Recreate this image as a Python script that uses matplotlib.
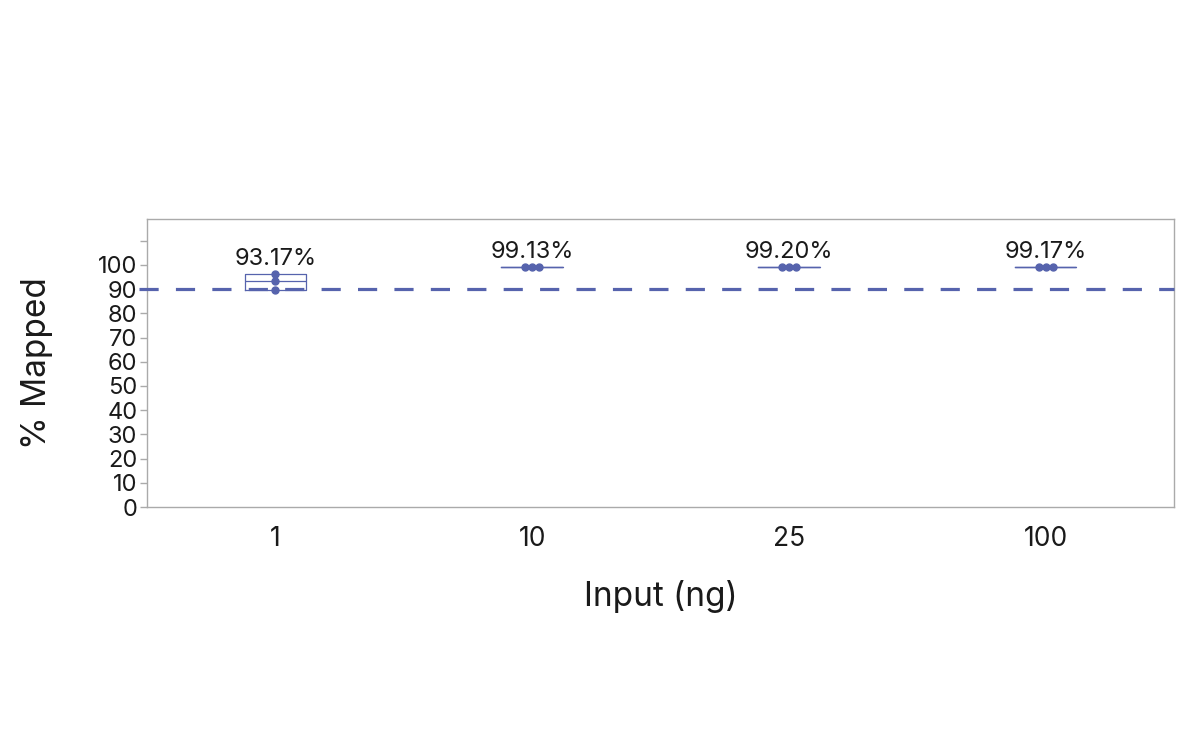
import matplotlib.pyplot as plt
import numpy as np

plt.rcParams['font.family'] = ['Inter', 'DejaVu Sans']

# data
categories = ['1', '10', '25', '100']
mapped = [
    [89.7, 93.4, 96.4],
    [99.1, 99.1, 99.2],
    [99.2, 99.2, 99.2],
    [99.2, 99.1, 99.2],
]
means = ['93.17%', '99.13%', '99.20%', '99.17%']
threshold = 90

blue = '#5663ad'
grey = '#aaaaaa'

fig = plt.figure(figsize=(12, 7.42), dpi=100)
ax = fig.add_axes([0.1225, 0.3167, 0.8558, 0.3882])

# box stats (min/max quartiles like JMP for n=3)
stats = []
for i, v in enumerate(mapped):
    v = np.array(v)
    q1, med, q3 = np.percentile(v, [25, 50, 75], method='weibull')
    stats.append(dict(med=med, q1=q1, q3=q3, whislo=v.min(), whishi=v.max(), fliers=[]))
ax.bxp(stats, positions=range(len(categories)), widths=0.24, showcaps=False,
       boxprops=dict(color=blue, linewidth=0.9),
       medianprops=dict(color=blue, linewidth=0.9),
       whiskerprops=dict(color=blue, linewidth=0.9), manage_ticks=False)

# points, spread sideways where they overlap
step = 0.027
for i, v in enumerate(mapped):
    v = np.array(v)
    order = np.argsort(v)
    groups = []
    for j in order:
        if groups and abs(v[j] - v[groups[-1][-1]]) < 1.5:
            groups[-1].append(j)
        else:
            groups.append([j])
    for g in groups:
        offs = (np.arange(len(g)) - (len(g) - 1) / 2) * step
        ax.plot(i + offs, v[g], 'o', color=blue, markersize=5, zorder=3)
    ax.annotate(means[i], xy=(i, v.max()), xytext=(0, 3), textcoords='offset points',
                ha='center', va='bottom', fontsize=17, color='#1a1a1a')

ax.plot([-0.53, len(categories) - 0.5], [threshold, threshold], color=blue,
        linewidth=2.3, dashes=(6, 5.4), zorder=4, clip_on=False)

ax.set_xlim(-0.5, len(categories) - 0.5)
ax.set_ylim(0, 119)
ax.set_yticks(np.arange(0, 111, 10))
ax.set_yticklabels([str(t) if t <= 100 else '' for t in range(0, 111, 10)])
ax.set_xticks(range(len(categories)))
ax.set_xticklabels(categories)
ax.tick_params(axis='y', colors=grey, labelcolor='#1a1a1a', labelsize=17, length=5, width=1, pad=2)
ax.tick_params(axis='x', length=0, labelsize=19, labelcolor='#1a1a1a', pad=14)
for s in ax.spines.values():
    s.set_color(grey)
    s.set_linewidth(1)

ax.set_xlabel('Input (ng)', fontsize=24, labelpad=20, color='#1a1a1a')
ax.set_ylabel('% Mapped', fontsize=24, labelpad=32, color='#1a1a1a')

fig.savefig('out.png', dpi=100)
